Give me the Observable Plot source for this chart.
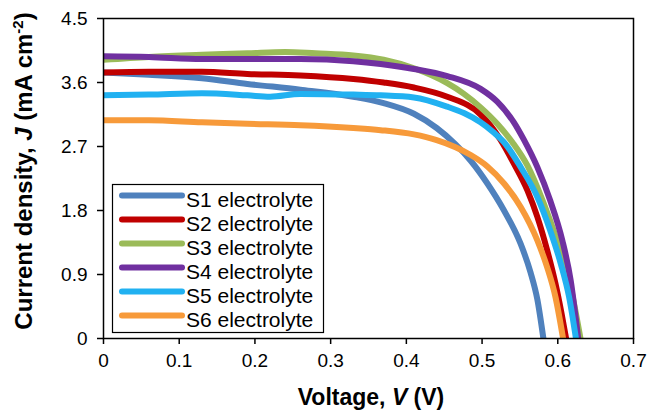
<!DOCTYPE html>
<html><head><meta charset="utf-8">
<script src="https://cdn.jsdelivr.net/npm/d3@7"></script>
<script src="https://cdn.jsdelivr.net/npm/@observablehq/plot@0.6"></script>
<style>body{margin:0;background:#fff;}</style>
</head><body><div id="chart"></div>
<script>
const seriesNames = ["S1 electrolyte","S2 electrolyte","S3 electrolyte","S4 electrolyte","S5 electrolyte","S6 electrolyte"];
const seriesColors = ["#4F81BD","#C00000","#9BBB59","#7030A0","#21B1F1","#F79A3A"];

// [Voltage (V), Current density (mA cm-2)]
const s1 = [[0,3.74],[0.06,3.71],[0.13,3.66],[0.19,3.58],[0.26,3.5],[0.33,3.40],[0.37,3.31],[0.41,3.16],[0.44,2.96],[0.465,2.73],[0.485,2.50],[0.507,2.18],[0.529,1.80],[0.551,1.33],[0.564,0.93],[0.573,0.55],[0.581,0]];
const s2 = [[0,3.74],[0.06,3.75],[0.13,3.75],[0.19,3.72],[0.26,3.70],[0.33,3.65],[0.37,3.60],[0.41,3.53],[0.454,3.40],[0.498,3.15],[0.524,2.80],[0.542,2.46],[0.56,2.08],[0.573,1.71],[0.586,1.24],[0.597,0.77],[0.605,0.35],[0.611,0]];
const s3 = [[0,3.92],[0.06,3.96],[0.13,3.99],[0.19,4.01],[0.24,4.03],[0.28,4.01],[0.33,3.98],[0.37,3.92],[0.41,3.80],[0.454,3.59],[0.476,3.44],[0.498,3.25],[0.52,3.02],[0.54,2.76],[0.56,2.43],[0.58,1.94],[0.599,1.38],[0.615,0.82],[0.63,0]];
const s4 = [[0,3.97],[0.06,3.96],[0.13,3.93],[0.19,3.93],[0.26,3.93],[0.33,3.90],[0.366,3.86],[0.41,3.79],[0.454,3.69],[0.498,3.51],[0.52,3.33],[0.542,3.04],[0.555,2.80],[0.573,2.41],[0.59,1.94],[0.606,1.38],[0.617,0.82],[0.627,0]];
const s5 = [[0,3.42],[0.06,3.43],[0.13,3.45],[0.19,3.42],[0.22,3.40],[0.26,3.44],[0.33,3.43],[0.366,3.42],[0.41,3.39],[0.454,3.26],[0.476,3.17],[0.498,3.04],[0.515,2.90],[0.529,2.76],[0.551,2.41],[0.573,1.99],[0.59,1.52],[0.604,1.05],[0.615,0.58],[0.624,0]];
const s6 = [[0,3.07],[0.06,3.07],[0.13,3.04],[0.19,3.02],[0.26,3.0],[0.33,2.96],[0.366,2.93],[0.41,2.87],[0.44,2.79],[0.465,2.69],[0.485,2.58],[0.507,2.42],[0.529,2.18],[0.551,1.85],[0.573,1.38],[0.586,1.0],[0.597,0.58],[0.607,0]];

const xTicks = [0,0.1,0.2,0.3,0.4,0.5,0.6,0.7];
const xTickLabels = ["0","0.1","0.2","0.3","0.4","0.5","0.6","0.7"];
const yTicks = [0,0.9,1.8,2.7,3.6,4.5];
const yTickLabels = ["0","0.9","1.8","2.7","3.6","4.5"];

const rows = [s1,s2,s3,s4,s5,s6].flatMap((s,i) => s.map(([v,j]) => ({series: seriesNames[i], v, j})));

const plot = Plot.plot({
  width: 662, height: 410,
  marginLeft: 103, marginRight: 29, marginTop: 18, marginBottom: 72,
  style: {fontFamily: "'Liberation Sans', Arial, sans-serif", fontSize: "19px", color: "#000", background: "#fff", overflow: "visible"},
  x: {domain: [0, 0.7]},
  y: {domain: [0, 4.5]},
  color: {domain: seriesNames, range: seriesColors},
  marks: [
    Plot.line(rows, {x: "v", y: "j", z: "series", stroke: "series", strokeWidth: 6, curve: "monotone-x", strokeLinecap: "butt"}),
    Plot.frame({stroke: "#000", strokeWidth: 1.5}),
    Plot.axisX({ticks: xTicks, tickFormat: d => xTickLabels[xTicks.indexOf(d)], tickSize: 6, tickPadding: 9, label: null, strokeWidth: 1.5}),
    Plot.axisY({ticks: yTicks, tickFormat: d => yTickLabels[yTicks.indexOf(d)], tickSize: 6, tickPadding: 10, label: null, strokeWidth: 1.5})
  ]
});

const svg = d3.select(plot);
// Legend
const lg = svg.append("g").attr("font-family", "'Liberation Sans', Arial, sans-serif").attr("text-anchor", "start");
lg.append("rect").attr("x", 112.5).attr("y", 184.5).attr("width", 211).attr("height", 148)
  .attr("fill", "#fff").attr("stroke", "#000").attr("stroke-width", 1.2);
seriesNames.forEach((n, i) => {
  const y = 195.5 + i * 24;
  lg.append("line").attr("x1", 122).attr("x2", 182).attr("y1", y).attr("y2", y)
    .attr("stroke", seriesColors[i]).attr("stroke-width", 6).attr("stroke-linecap", "round");
  lg.append("text").attr("x", 186).attr("y", y + 11.5).attr("font-size", 21).attr("fill", "#000").text(n);
});

// Axis titles
const xt = svg.append("text").attr("x", 371).attr("y", 405).attr("text-anchor", "middle")
  .attr("font-family", "'Liberation Sans', Arial, sans-serif").attr("font-size", 23).attr("font-weight", "bold").attr("fill", "#000");
xt.append("tspan").text("Voltage, ");
xt.append("tspan").attr("font-style", "italic").text("V");
xt.append("tspan").text(" (V)");

const yt = svg.append("text").attr("transform", "translate(32,171) rotate(-90)").attr("text-anchor", "middle")
  .attr("font-family", "'Liberation Sans', Arial, sans-serif").attr("font-size", 24).attr("font-weight", "bold").attr("fill", "#000");
yt.append("tspan").text("Current density, ");
yt.append("tspan").attr("font-style", "italic").text("J");
yt.append("tspan").text(" (mA cm");
yt.append("tspan").attr("font-size", 15).attr("dy", -9).text("-2");
yt.append("tspan").attr("dy", 9).text(")");

document.getElementById("chart").appendChild(plot);
</script>
</body></html>
